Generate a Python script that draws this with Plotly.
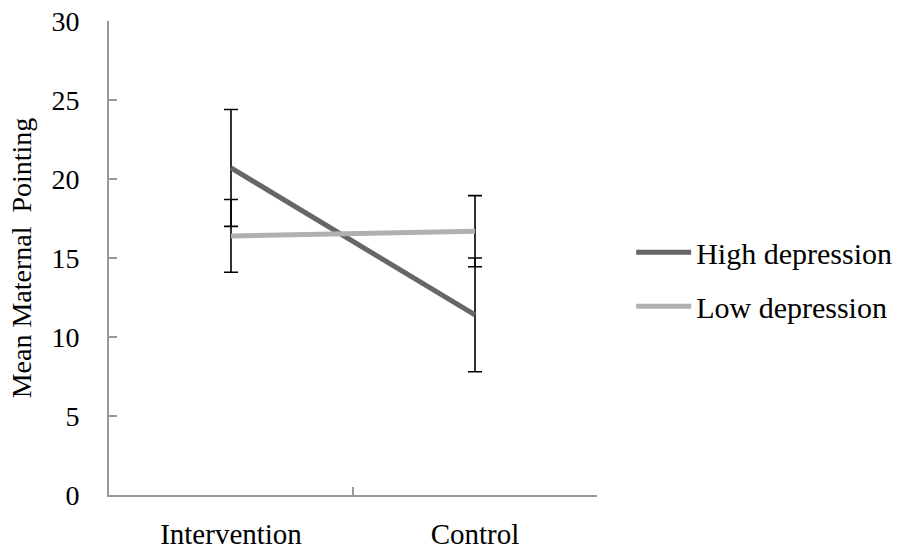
import plotly.graph_objects as go

categories = ["Intervention", "Control"]
high_mean = [20.7, 11.4]
high_err = [3.7, 3.6]
low_mean = [16.4, 16.7]
low_err = [2.3, 2.25]
y_ticks = [0, 5, 10, 15, 20, 25, 30]

FONT = "Liberation Serif"

fig = go.Figure()
fig.add_trace(go.Scatter(
    x=categories, y=high_mean, mode="lines", name="High depression",
    legendgroup="h",
    line=dict(color="#666666", width=5),
    error_y=dict(type="data", array=high_err, visible=True, color="#000000", thickness=1.6, width=7),
))
fig.add_trace(go.Scatter(
    x=categories, y=low_mean, mode="lines", name="Low depression",
    legendgroup="l",
    line=dict(color="#b0b0b0", width=5),
    error_y=dict(type="data", array=low_err, visible=True, color="#000000", thickness=1.6, width=7),
))

fig.update_layout(
    width=908, height=550,
    margin=dict(l=109, r=311, t=21, b=55, autoexpand=False),
    paper_bgcolor="white", plot_bgcolor="white",
    font=dict(family=FONT, color="#000000", size=28),
    showlegend=True,
    legend=dict(x=1.07, y=0.455, xanchor="left", yanchor="middle",
                font=dict(family=FONT, size=30, color="#000000"),
                itemwidth=55, tracegroupgap=12, bgcolor="rgba(0,0,0,0)"),
    xaxis=dict(
        type="category", range=[-0.5, 1.5], automargin=False,
        showline=True, linecolor="#999999", linewidth=2,
        ticks="inside", ticklen=8, tickcolor="#999999", tickwidth=2,
        tickson="boundaries", showgrid=False, zeroline=False,
        tickfont=dict(family=FONT, size=29, color="#000000"),
        ticklabelstandoff=12,
    ),
    yaxis=dict(
        range=[0, 30], tickvals=y_ticks, automargin=False,
        showline=True, linecolor="#999999", linewidth=2,
        ticks="inside", ticklen=8, tickcolor="#999999", tickwidth=2,
        showgrid=False, zeroline=False,
        tickfont=dict(family=FONT, size=28, color="#000000"),
        ticklabelstandoff=22,
        title=dict(text="Mean Maternal  Pointing", font=dict(family=FONT, size=28, color="#000000"), standoff=12),
    ),
)

fig.write_html("out.html")
